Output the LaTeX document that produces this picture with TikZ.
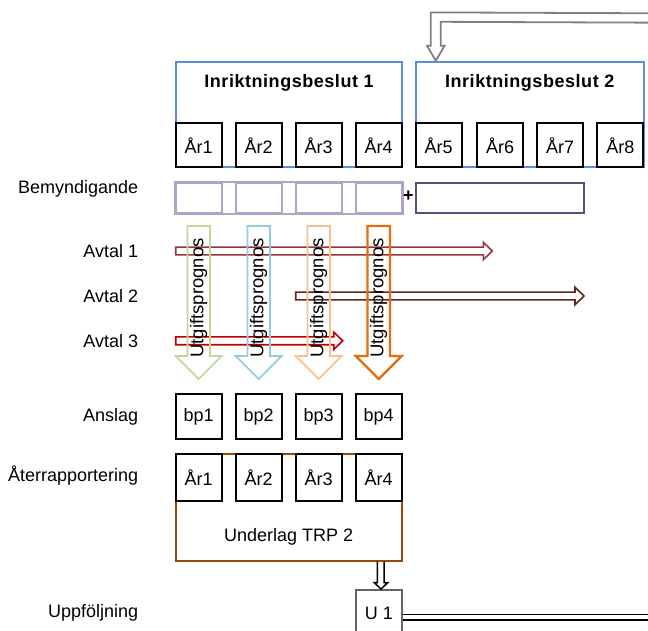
\documentclass[tikz,border=0pt]{standalone}
\usepackage{fontspec}
\setmainfont{Liberation Sans}
\usetikzlibrary{calc}

\definecolor{ibBlue}{HTML}{5B8FD8}
\definecolor{bemLight}{HTML}{B3A2C7}
\definecolor{bemDark}{HTML}{604A7B}
\definecolor{avtalA}{HTML}{953735}
\definecolor{avtalB}{HTML}{632523}
\definecolor{avtalC}{HTML}{C00000}
\definecolor{progGreen}{HTML}{C3D69B}
\definecolor{progBlue}{HTML}{93CDDD}
\definecolor{progPeach}{HTML}{FAC090}
\definecolor{progOrange}{HTML}{E46C0A}
\definecolor{trpBrown}{HTML}{984807}

\tikzstyle{yearbox}=[rectangle, draw=black, line width=1.8pt, minimum width=46pt, minimum height=44pt, inner sep=0pt]
\tikzstyle{bigbox}=[rectangle, draw=ibBlue, line width=1.8pt, inner sep=0pt]
\tikzstyle{bemcell}=[rectangle, draw=bemLight, line width=1.8pt, minimum width=46pt, minimum height=30.6pt, inner sep=0pt]
\tikzstyle{rowlabel}=[anchor=east, inner sep=0pt]
\tikzstyle{titlefont}=[font=\fontsize{18}{21}\selectfont\bfseries\addfontfeature{LetterSpace=3}]

% liggande blockpil: x1, x2, y, farg
\newcommand{\avtalpil}[4]{%
  \draw[#4, line width=1.6pt, line join=miter] (#1,#3-3.9) -- (#2-9,#3-3.9) -- (#2-9,#3-8.7)
    -- (#2,#3) -- (#2-9,#3+8.7) -- (#2-9,#3+3.9) -- (#1,#3+3.9) -- cycle;}

\begin{document}
\begin{tikzpicture}[x=1pt, y=-1pt, font=\fontsize{18}{21}\selectfont]

	\useasboundingbox (0,0) rectangle (648,630);

	% Inriktningsbeslut
	\node(ib1) at (289,114.5) [bigbox, minimum width=226.6pt, minimum height=105.6pt] {};
	\node(ib2) at (529.7,114.5) [bigbox, minimum width=228pt, minimum height=105.6pt] {};
	\node(ib1t) at (289,83.3) [titlefont] {Inriktningsbeslut 1};
	\node(ib2t) at (529.7,83.3) [titlefont] {Inriktningsbeslut 2};

	\foreach \x [count=\i] in {198.7,258.7,318.7,378.7,438.7,500,560,620.3}
		\node(ar\i) at (\x,145.3) [yearbox, fill=white] {År\i};

	% Pil tillbaka till Inriktningsbeslut 2
	\coordinate (tip) at ($(ib2.north west)+(21,0)$);
	\draw[black!50, line width=1.8pt, line join=miter]
		(660,13.3) -- ($(tip)+(-5,-48.4)$) -- ($(tip)+(-5,-15)$) -- ($(tip)+(-8.7,-15)$) -- (tip)
		-- ($(tip)+(8.7,-15)$) -- ($(tip)+(5,-15)$) -- ($(tip)+(5,-39)$) -- (660,22.7);

	% Radetiketter
	\node(lBem) at (138.3,189.3) [rowlabel] {Bemyndigande};
	\node(lAvtal1) at (138.3,251) [rowlabel] {Avtal 1};
	\node(lAvtal2) at (138.3,296) [rowlabel] {Avtal 2};
	\node(lAvtal3) at (138.3,341) [rowlabel] {Avtal 3};
	\node(lAnslag) at (138.3,416.7) [rowlabel] {Anslag};
	\node(lAter) at (138.3,476) [rowlabel] {Återrapportering};
	\node(lUpp) at (138.3,613.3) [rowlabel] {Uppföljning};

	% Bemyndigande
	\foreach \x [count=\i] in {198.7,258.7,318.7,378.7}
		\node(bem\i) at (\x,198) [bemcell] {};
	\draw[bemLight, line width=1.8pt] (bem1.north west) rectangle (bem4.south east);
	\node(bemNext) at (499.85,198) [bemcell, draw=bemDark, minimum width=168.3pt] {};
	\node(plus) at (408.5,196.5) [inner sep=0pt, font=\fontsize{18}{21}\selectfont\bfseries] {+};

	% Avtal
	\avtalpil{175.7}{492.3}{251}{avtalA}
	\avtalpil{295.7}{584}{296}{avtalB}
	\avtalpil{175.7}{342.7}{340.8}{avtalC, line width=2pt}

	% Utgiftsprognos
	\foreach \x/\col/\lw [count=\i] in {198.7/progGreen/1.8, 258.7/progBlue/1.8, 318.7/progPeach/1.8, 378.7/progOrange/2.2}
		{
			\draw[\col, line width=\lw pt, line join=miter] (\x-11.3,226) -- (\x+11.3,226) -- (\x+11.3,356)
				-- (\x+23,356) -- (\x,379) -- (\x-23,356) -- (\x-11.3,356) -- cycle;
			\node(prog\i) at (\x,298) [rotate=90, inner sep=0pt, font=\fontsize{18.5}{21}\selectfont] {Utgiftsprognos};
		}

	% Anslag
	\foreach \x [count=\i] in {198.7,258.7,318.7,378.7}
		\node(bp\i) at (\x,416.7) [yearbox, minimum height=44.7pt] {bp\i};

	% Aterrapportering
	\node(trp) at (288.7,507.35) [rectangle, draw=trpBrown, line width=1.8pt, minimum width=226pt, minimum height=106.7pt] {};
	\foreach \x [count=\i] in {198.7,258.7,318.7,378.7}
		\node(rar\i) at (\x,477.35) [yearbox, minimum height=46.7pt] {År\i};
	\node(trpt) at (288.7,536.7) {Underlag TRP 2};

	% Uppfoljning
	\node(u1) at (379,613) [yearbox, draw=black!60, minimum height=46pt] {U 1};
	\draw[line width=1.5pt, line join=miter] ($(trp.south)+(88.6,0)$) -- ($(trp.south)+(88.6,21)$)
		-- ($(trp.south)+(85.6,21)$) -- ($(u1.north)+(2,0)$) -- ($(trp.south)+(99,21)$)
		-- ($(trp.south)+(95.3,21)$) -- ($(trp.south)+(95.3,0)$);
	\draw[double, double distance=3.6pt, line width=1.5pt] ($(u1.east)+(0,4.2)$) -- (660,617.2);

\end{tikzpicture}
\end{document}
